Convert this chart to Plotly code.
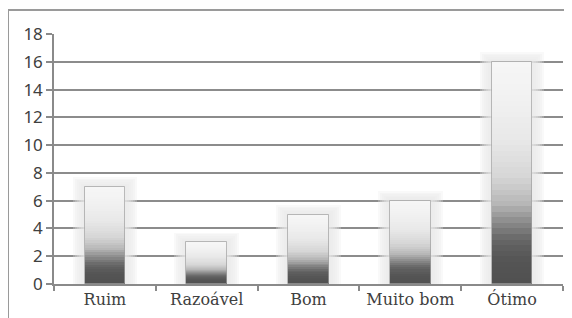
import plotly.graph_objects as go

categories = ["Ruim", "Razoável", "Bom", "Muito bom", "Ótimo"]
values = [7, 3, 5, 6, 16]
y_ticks = [0, 2, 4, 6, 8, 10, 12, 14, 16, 18]

# page has an 8px body margin, so the figure starts at (8, 8)
W, H = 564, 310
ML, MR, MT, MB = 46, 9, 26, 34
pw = W - ML - MR
ph = H - MT - MB
px_x = 5.0 / pw          # category units per pixel
px_y = 18.0 / ph         # value units per pixel
BAR_W = 0.40

# gradient stops: (fraction of bar height, grey level)
stops = [(0.0, 80), (0.12, 86), (0.2, 102), (0.28, 140), (0.36, 182),
         (0.48, 214), (0.65, 232), (0.85, 242), (1.0, 246)]

def grey_at(f):
    for (f0, g0), (f1, g1) in zip(stops[:-1], stops[1:]):
        if f0 <= f <= f1:
            t = (f - f0) / (f1 - f0) if f1 > f0 else 0
            return g0 + (g1 - g0) * t
    return stops[-1][1]

fig = go.Figure()

# soft halo behind the bars
halo_pads = [12, 10, 8, 6, 4, 2]
for pad in halo_pads:
    fig.add_trace(go.Bar(
        x=categories,
        y=[v + 1.6 * pad * px_y for v in values],
        base=[-pad * px_y * 0.8 for v in values],
        width=BAR_W + 2 * pad * px_x,
        marker=dict(color="rgba(232,232,232,0.28)", line=dict(width=0)),
        cliponaxis=False, hoverinfo="skip", showlegend=False))

# gradient fill made of stacked slices
N = 40
for i in range(N):
    f0, f1 = i / N, (i + 1) / N
    g = int(round(grey_at((f0 + f1) / 2)))
    fig.add_trace(go.Bar(
        x=categories,
        y=[v * (f1 - f0) * 1.002 for v in values],
        base=[v * f0 for v in values],
        width=BAR_W,
        marker=dict(color=f"rgb({g},{g},{g})", line=dict(width=0)),
        hoverinfo="skip", showlegend=False))

# outline
fig.add_trace(go.Bar(
    x=categories, y=values, width=BAR_W,
    marker=dict(color="rgba(0,0,0,0)", line=dict(color="rgba(160,160,160,0.7)", width=1)),
    hoverinfo="skip", showlegend=False))

# outer frame (left and top border)
fx0 = (0 - ML) / pw
fy_top = (H - MB - 2) / ph
fy_bot = (-MB - 5) / ph
fx1 = (W + 5 - ML) / pw
fig.add_shape(type="line", xref="paper", yref="paper", x0=fx0, x1=fx0, y0=fy_bot, y1=fy_top,
              line=dict(color="#9a9a9a", width=2))
fig.add_shape(type="line", xref="paper", yref="paper", x0=fx0, x1=fx1, y0=fy_top, y1=fy_top,
              line=dict(color="#9a9a9a", width=2))

fig.update_layout(
    width=W, height=H,
    margin=dict(l=ML, r=MR, t=MT, b=MB, pad=0, autoexpand=False),
    paper_bgcolor="white", plot_bgcolor="white",
    barmode="overlay", bargap=0,
    showlegend=False, hovermode=False,
    xaxis=dict(type="category", range=[-0.5, 4.5], showgrid=False,
               showline=True, linecolor="#8a8a8a", linewidth=1.5,
               ticks="outside", tickson="boundaries", ticklen=5, tickcolor="#8a8a8a",
               tickwidth=1.5, tickangle=0, automargin=False,
               tickfont=dict(family="DejaVu Serif", size=16, color="#404040")),
    yaxis=dict(range=[0, 18], tickvals=y_ticks, showgrid=True, gridcolor="#8c8c8c",
               gridwidth=1.5, zeroline=False, automargin=False,
               showline=True, linecolor="#8a8a8a", linewidth=1.5,
               ticks="outside", ticklen=6, tickcolor="#8a8a8a", tickwidth=1.5,
               tickfont=dict(family="Noto Sans", size=17, color="#404040")),
)

fig.write_html("out.html")
